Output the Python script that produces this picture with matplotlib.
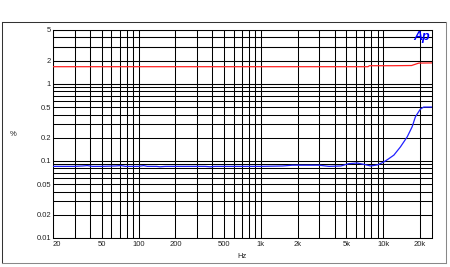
import matplotlib
matplotlib.use("Agg")
import matplotlib.pyplot as plt
from matplotlib.lines import Line2D

plt.rcParams['font.family'] = ['Liberation Sans', 'DejaVu Sans']

# red trace
red_hz = [20, 100, 1000, 7500, 7700, 12000, 17000, 19500, 25000]
red_pct = [1.67, 1.67, 1.67, 1.67, 1.72, 1.72, 1.73, 1.86, 1.87]

# blue trace
blue_hz = [20, 30, 35, 38, 42, 50, 65, 72, 78, 100, 110, 118, 140, 150, 165, 200, 350, 385,
           420, 700, 1000, 1500, 1800, 2500, 3000, 3600, 4500, 5200, 6100, 7000, 7900,
           9000, 10100, 11000, 12200, 13800, 15700, 17200, 18300, 20100, 21400, 25000]
blue_pct = [0.085, 0.085, 0.086, 0.087, 0.085, 0.085, 0.086, 0.087, 0.085, 0.085, 0.087, 0.085,
            0.085, 0.084, 0.085, 0.085, 0.085, 0.084, 0.085, 0.085, 0.085, 0.086, 0.088, 0.088,
            0.088, 0.085, 0.086, 0.092, 0.094, 0.090, 0.086, 0.089, 0.097, 0.106, 0.119, 0.152,
            0.206, 0.277, 0.374, 0.471, 0.50, 0.50]

x_ticks = [20, 50, 100, 200, 500, 1000, 2000, 5000, 10000, 20000]
x_labels = ['20', '50', '100', '200', '500', '1k', '2k', '5k', '10k', '20k']
y_ticks = [0.01, 0.02, 0.05, 0.1, 0.2, 0.5, 1, 2, 5]
y_labels = ['0.01', '0.02', '0.05', '0.1', '0.2', '0.5', '1', '2', '5']

fig = plt.figure(figsize=(4.5, 2.67), dpi=100)
ax = fig.add_axes([53/450, 1-238/267, (432-53)/450, (238-30)/267])

ax.set_xscale('log')
ax.set_yscale('log')
ax.set_xlim(20, 25000)
ax.set_ylim(0.01, 5)

# grid lines at 1..9 of every decade
xg = [m * 10**e for e in range(1, 5) for m in range(1, 10)]
xg = [v for v in xg if 20 <= v <= 25000]
yg = [m * 10**e for e in range(-2, 1) for m in range(1, 10)] + [1, 2, 3, 4, 5]
for v in xg:
    ax.axvline(v, color='black', lw=0.75, zorder=1)
for v in yg:
    ax.axhline(v, color='black', lw=0.75, zorder=1)

ax.plot(red_hz, red_pct, color='#ff2020', lw=0.9, zorder=3)
ax.plot(blue_hz, blue_pct, color='#2020ff', lw=0.9, zorder=3)

ax.xaxis.set_minor_locator(matplotlib.ticker.NullLocator())
ax.yaxis.set_minor_locator(matplotlib.ticker.NullLocator())
ax.set_xticks(x_ticks)
ax.set_xticklabels(x_labels)
ax.set_yticks(y_ticks)
ax.set_yticklabels(y_labels)
ax.tick_params(length=0, labelsize=5.5, labelcolor='#222222')
ax.tick_params(axis='x', pad=2.5)
ax.tick_params(axis='y', pad=1.5)
ax.get_xticklabels()[0].set_horizontalalignment('left')

for s in ax.spines.values():
    s.set_color('black')
    s.set_linewidth(0.75)

ax.text(0.995, 0.968, 'Ap', transform=ax.transAxes, ha='right', va='center',
        color='#0000ff', fontsize=9, fontweight='bold', fontstyle='italic')

fig.text(13/450, 1-134/267, '%', fontsize=5.5, ha='center', va='center', color='#222222')
fig.text(242/450, 1-257/267, 'Hz', fontsize=5.5, ha='center', va='center', color='#222222')

# outer frame
x0, x1 = 1.5/450, 445.5/450
y0, y1 = 1-262.5/267, 1-22/267
fig.add_artist(Line2D([x0, x1], [y1, y1], color='#333333', lw=0.75))
fig.add_artist(Line2D([x0, x0], [y0, y1], color='#333333', lw=0.75))
fig.add_artist(Line2D([x1, x1], [y0, y1], color='#888888', lw=0.75))
fig.add_artist(Line2D([x0, x1], [y0, y0], color='#888888', lw=0.75))

fig.savefig('out.png', dpi=100, facecolor='white')
